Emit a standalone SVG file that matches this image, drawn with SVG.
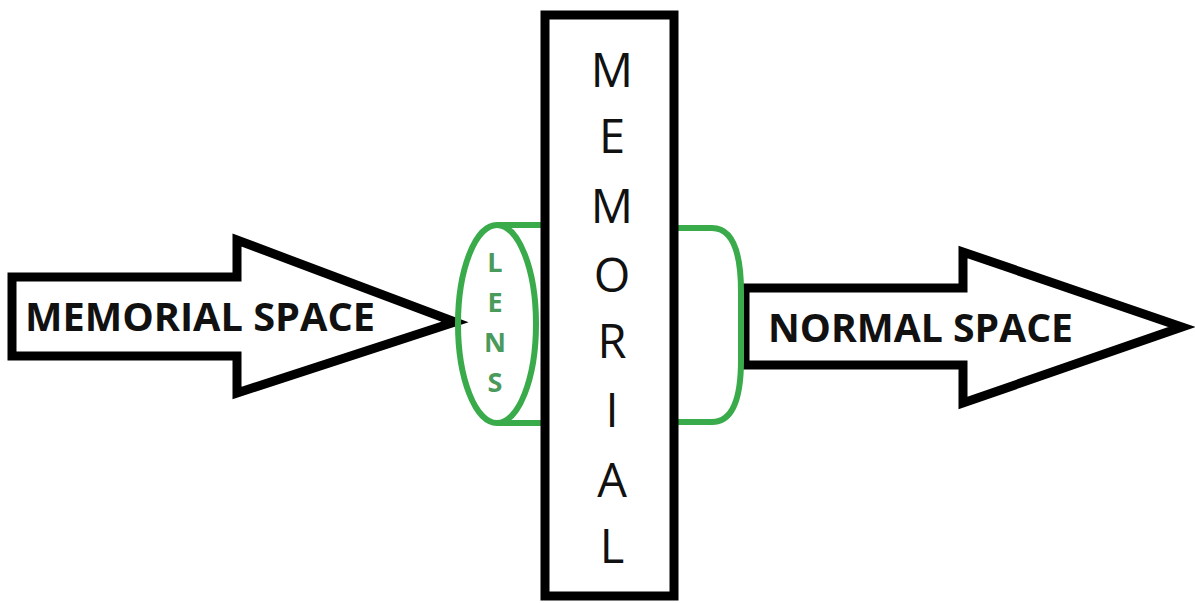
<svg xmlns="http://www.w3.org/2000/svg" width="1195" height="603" viewBox="0 0 1195 603">
<style>
.blk{fill:#fff;stroke:#000;stroke-width:9;stroke-linejoin:miter}
.grn{fill:none;stroke:#3aab4a;stroke-width:6}
.lbl{font-family:"Open Sans","Liberation Sans",sans-serif;font-weight:bold;fill:#111}
.mem{font-family:"Open Sans","Liberation Sans",sans-serif;font-size:47px;fill:#111;text-anchor:middle}
.lens{font-family:"Open Sans","Liberation Sans",sans-serif;font-weight:bold;font-size:27px;fill:#4a9a5c;text-anchor:middle}
</style>
<rect width="1195" height="603" fill="#fff"/>
<g id="arrow-memorial-space">
<polygon class="blk" points="12,277 237,277 237,240 455,322 237,393 237,356 12,356"/>
<text class="lbl" x="25" y="331" font-size="40" textLength="350" lengthAdjust="spacingAndGlyphs">MEMORIAL SPACE</text>
</g>
<g id="arrow-normal-space">
<polygon class="blk" points="745,288 963,288 963,252 1182,327 963,403 963,365 745,365"/>
<text class="lbl" x="768" y="342" font-size="40" textLength="305" lengthAdjust="spacingAndGlyphs">NORMAL SPACE</text>
</g>
<g id="connectors">
<path class="grn" d="M497,225 L548,225 M497,423 L548,423"/>
<path class="grn" d="M672,228 L712,228 Q741,228 741,292 L741,360 Q741,422 712,422 L672,422"/>
</g>
<g id="lens">
<ellipse class="grn" cx="497" cy="324" rx="39" ry="99" fill="#fff"/>
<text class="lens" x="495" y="272">L</text>
<text class="lens" x="495" y="312">E</text>
<text class="lens" x="495" y="352">N</text>
<text class="lens" x="495" y="392">S</text>
</g>
<g id="memorial">
<rect class="blk" x="545" y="15" width="129" height="581"/>
<text class="mem" x="612" y="87">M</text>
<text class="mem" x="612" y="153">E</text>
<text class="mem" x="612" y="223">M</text>
<text class="mem" x="612" y="292">O</text>
<text class="mem" x="612" y="358">R</text>
<text class="mem" x="612" y="427">I</text>
<text class="mem" x="612" y="497">A</text>
<text class="mem" x="612" y="563">L</text>
</g>
</svg>
